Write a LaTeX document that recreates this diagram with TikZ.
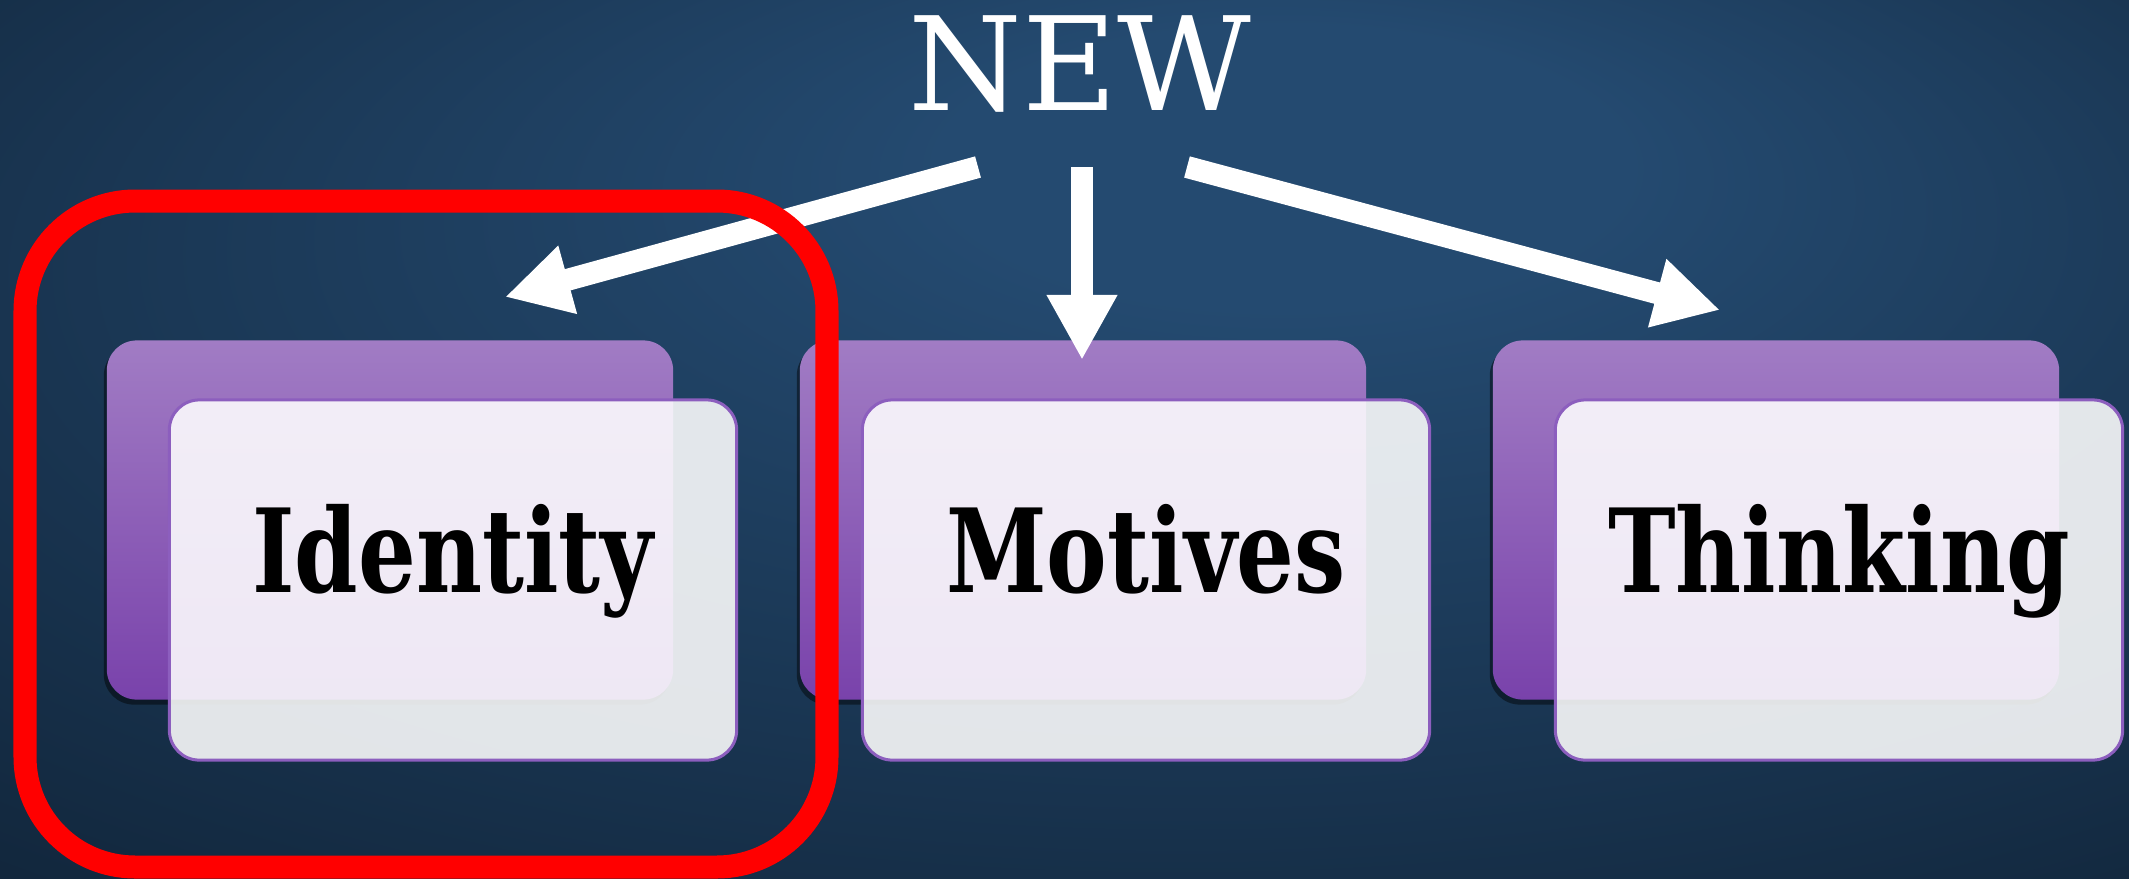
\documentclass[tikz,border=0pt]{standalone}
\usepackage{fontspec}
\setmainfont{DejaVu Serif}
\newfontfamily\losa{DejaVu Serif Condensed}[FakeStretch=0.87]
\usetikzlibrary{arrows.meta,positioning,shadows}

\definecolor{fondoclaro}{RGB}{36,74,112}
\definecolor{fondooscuro}{RGB}{8,20,33}
\definecolor{moradoclaro}{RGB}{161,124,196}
\definecolor{moradooscuro}{RGB}{121,66,171}
\definecolor{bordemorado}{RGB}{140,94,190}
\definecolor{rojomarco}{RGB}{255,0,0}

\pgfdeclareradialshading{fondo}{\pgfpoint{6bp}{18bp}}{color(0bp)=(fondoclaro); color(8bp)=(fondoclaro); color(58bp)=(fondooscuro)}

\begin{document}
\begin{tikzpicture}[x=0.01cm, y=-0.01cm,
    tarjeta/.style={rounded corners=0.3cm, top color=moradoclaro, bottom color=moradooscuro,
        minimum width=5.66cm, minimum height=3.59cm,
        drop shadow={fill=black, opacity=0.45, shadow xshift=-0.03cm, shadow yshift=-0.05cm}},
    hoja/.style={rounded corners=0.3cm, fill=white, fill opacity=0.88, text opacity=1,
        draw=bordemorado, line width=0.03cm, minimum width=5.67cm, minimum height=3.6cm,
        text height=0.73em, text depth=0pt, font=\losa\bfseries\fontsize{33}{40}\selectfont},
    flecha/.style={white, line width=0.22cm, -{Triangle[width=0.66cm, length=0.65cm]}}]

    % Fondo
    \useasboundingbox (0,0) rectangle (2129,878);
    \shade[shading=fondo] (0,0) rectangle (2129,878);

    % Titulo
    \node[white, anchor=base, inner sep=0pt, font=\fontsize{37}{44}\selectfont] (nuevo) at (1080,110) {NEW};

    % Tarjetas
    \foreach \x/\nombre/\texto in {0/ident/Identity, 693/motiv/Motives, 1386/pensa/Thinking} {
        \node[tarjeta] (\nombre-atras) at (390+\x,520) {};
        \node[hoja] (\nombre) at (453+\x,580) {\texto};
    }

    % Flechas
    \coordinate (sal-izq) at (978,167);
    \coordinate (sal-cen) at (1082,167);
    \coordinate (sal-der) at (1187,167);
    \coordinate (punta-izq) at (505,297);
    \coordinate (punta-cen) at (1082,360);
    \coordinate (punta-der) at (1720,310);
    \draw[flecha] (sal-izq) -- (punta-izq);
    \draw[flecha] (sal-cen) -- (punta-cen);
    \draw[flecha] (sal-der) -- (punta-der);

    % Marco rojo
    \draw[rojomarco, line width=0.23cm, rounded corners=1.1cm] (25,201) rectangle (827,867);
\end{tikzpicture}
\end{document}
